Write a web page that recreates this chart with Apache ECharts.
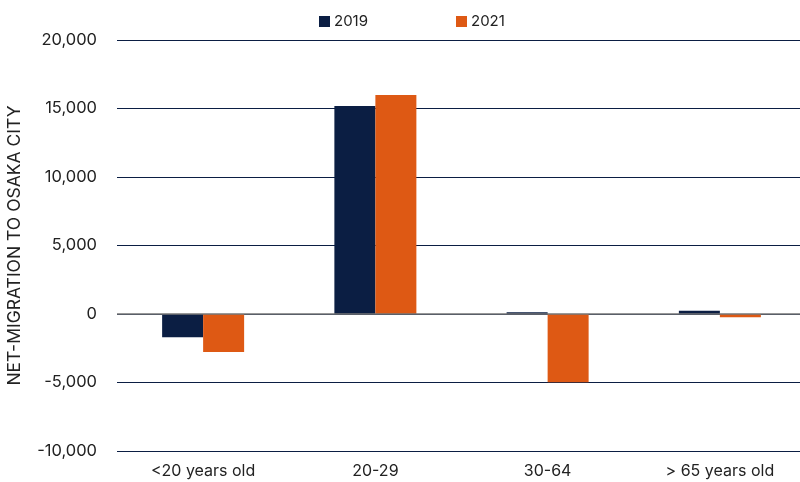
<!DOCTYPE html>
<html>
<head>
<meta charset="utf-8">
<script src="https://cdn.jsdelivr.net/npm/echarts@6/dist/echarts.min.js"></script>
<style>
  html, body { margin: 0; padding: 0; background: #fff; }
  #chart { width: 800px; height: 482px; }
</style>
</head>
<body>
<div id="chart"></div>
<script>
// Age groups and net migration into Osaka City
const categories = ['<20 years old', '20-29', '30-64', '> 65 years old'];
const seriesNames = ['2019', '2021'];
const values2019 = [-1700, 15180, 120, 240];
const values2021 = [-2780, 15990, -4980, -240];
const yTicks = { min: -10000, max: 20000, interval: 5000 };

const NAVY = '#0b1e43';
const ORANGE = '#de5914';
const FONT = 'Inter, "Open Sans", sans-serif';

const chart = echarts.init(document.getElementById('chart'));
chart.setOption({
  animation: false,
  textStyle: { fontFamily: FONT },
  legend: {
    data: seriesNames,
    top: 9,
    left: 314,
    itemGap: 88,
    itemWidth: 11,
    itemHeight: 11,
    icon: 'rect',
    textStyle: { fontSize: 15, color: '#222', fontFamily: FONT, padding: [0, 0, 0, -1] }
  },
  grid: { left: 117, right: -6, top: 40, bottom: 31, containLabel: false, outerBoundsMode: 'none' },
  xAxis: {
    type: 'category',
    data: categories,
    axisLine: { show: false },
    axisTick: { show: false },
    axisLabel: { color: '#222', fontSize: 16, margin: 12, fontFamily: FONT }
  },
  yAxis: {
    type: 'value',
    min: yTicks.min,
    max: yTicks.max,
    interval: yTicks.interval,
    name: 'NET-MIGRATION TO OSAKA CITY',
    nameLocation: 'middle',
    nameGap: 93,
    nameTextStyle: { color: '#222', fontSize: 17.5, fontFamily: FONT },
    axisLine: { show: false },
    axisTick: { show: false },
    axisLabel: {
      color: '#222', fontSize: 16.5, margin: 20, fontFamily: FONT,
      formatter: v => v.toLocaleString('en-US')
    },
    splitLine: {
      lineStyle: { color: NAVY, width: 1 }
    }
  },
  series: [
    {
      name: '2019', type: 'bar', data: values2019,
      barWidth: 41, barGap: '0%',
      itemStyle: { color: NAVY },
      markLine: {
        silent: true, symbol: 'none', label: { show: false },
        lineStyle: { color: '#767676', type: 'solid', width: 1.5 },
        data: [{ yAxis: 0 }]
      },
      z: 2
    },
    {
      name: '2021', type: 'bar', data: values2021,
      barWidth: 41, barGap: '0%',
      itemStyle: { color: ORANGE },
      z: 2
    }
  ]
});
</script>
</body>
</html>
